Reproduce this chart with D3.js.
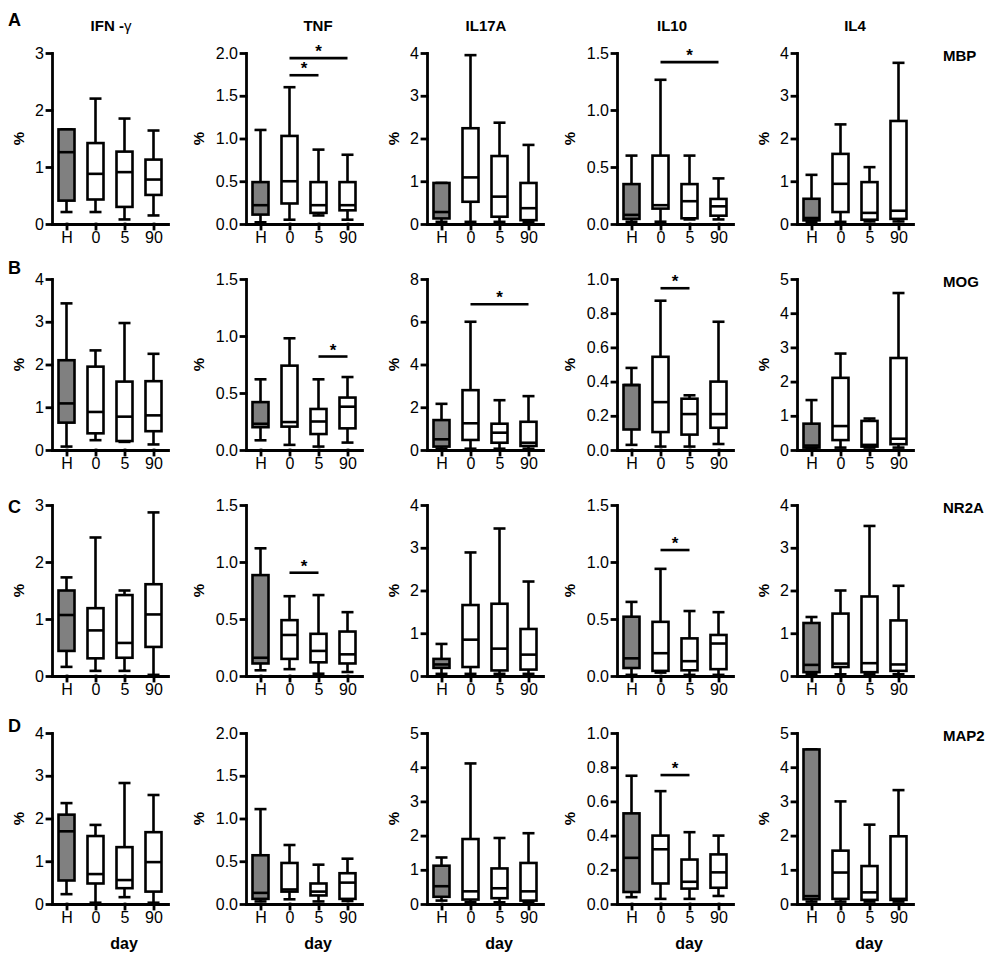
<!DOCTYPE html>
<html>
<head>
<meta charset="utf-8">
<style>
    body { margin: 0; background: #fff; }
    svg { display: block; font-family: "Liberation Sans", Arial, sans-serif; }
    .axis path, .axis line { stroke: #000; stroke-width: 2.8px; stroke-linecap: square; }
    .axis text { font-size: 16px; fill: #000; }
    .box rect, .box line { stroke: #000; stroke-width: 2.6px; }
    .sig line { stroke: #000; stroke-width: 2.6px; }
</style>
</head>
<body>
<div id="chart"></div>
<script src="https://cdn.jsdelivr.net/npm/d3@7"></script>
<script>
    let groups = ["H", "0", "5", "90"];
    let cytokines = ["IFN -", "TNF", "IL17A", "IL10", "IL4"];
    let antigens = ["MBP", "MOG", "NR2A", "MAP2"];
    let rowLetters = ["A", "B", "C", "D"];

    // per cytokine: one [min, q1, median, q3, max] for H, 0, 5, 90
    let boxesMBP = [
        [[0.21, 0.41, 1.26, 1.66, 1.66], [0.21, 0.43, 0.88, 1.42, 2.20], [0.08, 0.30, 0.91, 1.27, 1.85], [0.15, 0.51, 0.78, 1.13, 1.64]],
        [[0.02, 0.11, 0.22, 0.49, 1.10], [0.05, 0.24, 0.50, 1.03, 1.60], [0.10, 0.13, 0.22, 0.49, 0.87], [0.05, 0.16, 0.22, 0.49, 0.81]],
        [[0.05, 0.13, 0.28, 0.96, 0.96], [0.05, 0.52, 1.09, 2.24, 3.95], [0.05, 0.17, 0.64, 1.59, 2.37], [0.04, 0.09, 0.37, 0.96, 1.85]],
        [[0.02, 0.045, 0.08, 0.35, 0.60], [0.02, 0.135, 0.165, 0.60, 1.265], [0.04, 0.05, 0.20, 0.35, 0.60], [0.04, 0.073, 0.155, 0.22, 0.40]],
        [[0.04, 0.085, 0.14, 0.59, 1.15], [0.05, 0.28, 0.94, 1.64, 2.33], [0.06, 0.10, 0.26, 0.98, 1.33], [0.06, 0.12, 0.31, 2.41, 3.77]]
    ];
    let boxesMOG = [
        [[0.08, 0.64, 1.09, 2.10, 3.43], [0.23, 0.39, 0.89, 1.95, 2.33], [0.19, 0.21, 0.78, 1.60, 2.97], [0.13, 0.44, 0.81, 1.61, 2.25]],
        [[0.085, 0.20, 0.23, 0.42, 0.62], [0.045, 0.205, 0.245, 0.74, 0.98], [0.03, 0.14, 0.25, 0.36, 0.62], [0.065, 0.19, 0.38, 0.46, 0.64]],
        [[0.06, 0.16, 0.50, 1.40, 2.16], [0.06, 0.47, 1.25, 2.80, 6.0], [0.06, 0.34, 0.81, 1.23, 2.33], [0.06, 0.19, 0.34, 1.32, 2.52]],
        [[0.03, 0.12, 0.38, 0.38, 0.48], [0.02, 0.105, 0.28, 0.545, 0.873], [0.02, 0.09, 0.21, 0.30, 0.32], [0.035, 0.13, 0.21, 0.40, 0.75]],
        [[0.04, 0.07, 0.13, 0.77, 1.46], [0.07, 0.29, 0.70, 2.11, 2.82], [0.07, 0.10, 0.15, 0.85, 0.92], [0.07, 0.17, 0.33, 2.69, 4.59]]
    ];
    let boxesNR2A = [
        [[0.16, 0.44, 1.07, 1.50, 1.73], [0.09, 0.31, 0.80, 1.19, 2.43], [0.09, 0.32, 0.58, 1.42, 1.50], [0.02, 0.51, 1.08, 1.61, 2.87]],
        [[0.05, 0.11, 0.16, 0.885, 1.12], [0.06, 0.15, 0.36, 0.49, 0.70], [0.02, 0.12, 0.22, 0.37, 0.71], [0.035, 0.11, 0.19, 0.39, 0.56]],
        [[0.05, 0.19, 0.27, 0.40, 0.75], [0.05, 0.21, 0.85, 1.66, 2.89], [0.05, 0.13, 0.64, 1.69, 3.45], [0.05, 0.15, 0.50, 1.10, 2.21]],
        [[0.01, 0.07, 0.155, 0.52, 0.65], [0.03, 0.045, 0.20, 0.475, 0.94], [0.01, 0.05, 0.13, 0.33, 0.57], [0.01, 0.06, 0.285, 0.36, 0.56]],
        [[0.04, 0.09, 0.26, 1.24, 1.38], [0.04, 0.21, 0.29, 1.46, 2.00], [0.04, 0.09, 0.30, 1.86, 3.51], [0.04, 0.12, 0.27, 1.30, 2.11]]
    ];
    let boxesMAP2 = [
        [[0.23, 0.55, 1.70, 2.09, 2.36], [0.03, 0.48, 0.70, 1.59, 1.85], [0.16, 0.37, 0.56, 1.33, 2.83], [0.03, 0.29, 0.98, 1.68, 2.55]],
        [[0.03, 0.06, 0.13, 0.57, 1.11], [0.055, 0.145, 0.17, 0.48, 0.69], [0.03, 0.10, 0.145, 0.24, 0.46], [0.035, 0.06, 0.25, 0.36, 0.53]],
        [[0.10, 0.21, 0.52, 1.12, 1.36], [0.05, 0.13, 0.37, 1.90, 4.11], [0.05, 0.17, 0.46, 1.04, 1.93], [0.05, 0.10, 0.37, 1.20, 2.07]],
        [[0.04, 0.07, 0.27, 0.53, 0.75], [0.03, 0.12, 0.32, 0.40, 0.66], [0.03, 0.09, 0.13, 0.26, 0.42], [0.047, 0.095, 0.185, 0.29, 0.40]],
        [[0.07, 0.14, 0.23, 4.52, 4.52], [0.07, 0.15, 0.92, 1.56, 3.00], [0.07, 0.12, 0.34, 1.11, 2.32], [0.07, 0.12, 0.15, 1.98, 3.33]]
    ];
    let allBoxes = [boxesMBP, boxesMOG, boxesNR2A, boxesMAP2];

    // y axis top and tick step, row by row
    let yMax  = [[3, 2.0, 4, 1.5, 4], [4, 1.5, 8, 1.0, 5], [3, 1.5, 4, 1.5, 4], [4, 2.0, 5, 1.0, 5]];
    let yStep = [[1, 0.5, 1, 0.5, 1], [1, 0.5, 2, 0.2, 1], [1, 0.5, 1, 0.5, 1], [1, 0.5, 1, 0.2, 1]];

    // significance bars: row, column, from group, to group, height
    let sigBars = [
        [0, 1, "0", "5", 1.74], [0, 1, "0", "90", 1.94], [0, 3, "0", "90", 1.42],
        [1, 1, "5", "90", 0.82], [1, 2, "0", "90", 6.82], [1, 3, "0", "5", 0.946],
        [2, 1, "0", "5", 0.906], [2, 3, "0", "5", 1.105],
        [3, 3, "0", "5", 0.754]
    ];

    let w = 1000, h = 967;
    let axisX = [52, 246, 427, 617, 797];
    let rowTop = [53, 279, 505, 733];
    let ph = 171, pw = 116;
    let titleDx = [59, 72, 59, 55, 58];
    let letterY = [26, 274, 513, 732];
    let bw = 16, cw = 12; // box width, whisker cap width

    let vis = d3.select("#chart").append("svg")
        .attr("width", w).attr("height", h);

    let x = d3.scalePoint().domain(groups).range([0, pw]).padding(0.5);

    // column titles
    vis.selectAll("text.title").data(cytokines).enter().append("text")
        .attr("class", "title")
        .attr("x", (d, i) => axisX[i] + titleDx[i])
        .attr("y", 31)
        .attr("text-anchor", "middle")
        .style("font-size", "15px").style("font-weight", "bold")
        .each(function(d, i) {
            d3.select(this).append("tspan").text(d);
            if (i == 0) d3.select(this).append("tspan").style("font-weight", "normal").text("γ");
        });

    rowLetters.forEach(function(l, r) {
        vis.append("text").attr("x", 8).attr("y", letterY[r])
            .style("font-size", "18px").style("font-weight", "bold").text(l);
        vis.append("text").attr("x", 943).attr("y", rowTop[r] + 8)
            .style("font-size", "15px").style("font-weight", "bold").text(antigens[r]);
    });

    allBoxes.forEach(function(rowData, r) {
        rowData.forEach(function(panel, c) {
            let g = vis.append("g").attr("transform", "translate(" + axisX[c] + "," + rowTop[r] + ")");
            let y = d3.scaleLinear().domain([0, yMax[r][c]]).range([ph, 0]);
            let step = yStep[r][c];
            let ticks = d3.range(0, yMax[r][c] + step / 2, step);
            let fmt = step < 1 || yMax[r][c] % 1 ? d3.format(".1f") : d3.format("d");

            let ya = g.append("g").attr("class", "axis")
                .call(d3.axisLeft(y).tickValues(ticks).tickFormat(fmt).tickSize(5).tickSizeOuter(0).tickPadding(3));
            ya.selectAll("text").attr("font-family", null);
            g.append("g").attr("class", "axis")
                .attr("transform", "translate(0," + ph + ")")
                .call(d3.axisBottom(x).tickSize(5).tickSizeOuter(0).tickPadding(3))
                .selectAll("text").attr("font-family", null);
            vis.selectAll(".axis").attr("font-family", null).attr("font-size", null);

            let bb = ya.node().getBBox();
            g.append("text")
                .attr("transform", "translate(" + (bb.x - 11.5) + "," + (ph / 2) + ") rotate(-90)")
                .attr("text-anchor", "middle")
                .style("font-size", "15px").style("font-weight", "bold").text("%");

            let box = g.selectAll("g.box").data(panel).enter().append("g")
                .attr("class", "box")
                .attr("transform", (d, i) => "translate(" + x(groups[i]) + ",0)");
            box.append("line").attr("y1", d => y(d[0])).attr("y2", d => y(d[4]));
            box.append("line").attr("x1", -cw / 2).attr("x2", cw / 2).attr("y1", d => y(d[0])).attr("y2", d => y(d[0]));
            box.append("line").attr("x1", -cw / 2).attr("x2", cw / 2).attr("y1", d => y(d[4])).attr("y2", d => y(d[4]));
            box.append("rect")
                .attr("x", -bw / 2).attr("width", bw)
                .attr("y", d => y(d[3])).attr("height", d => y(d[1]) - y(d[3]))
                .attr("fill", (d, i) => i == 0 ? "#808080" : "#fff");
            box.append("line").attr("x1", -bw / 2).attr("x2", bw / 2).attr("y1", d => y(d[2])).attr("y2", d => y(d[2]));

            let sig = g.selectAll("g.sig").data(sigBars.filter(s => s[0] == r && s[1] == c)).enter()
                .append("g").attr("class", "sig");
            sig.append("line")
                .attr("x1", d => x(d[2])).attr("x2", d => x(d[3]))
                .attr("y1", d => y(d[4])).attr("y2", d => y(d[4]));
            sig.append("text")
                .attr("x", d => (x(d[2]) + x(d[3])) / 2).attr("y", d => y(d[4]) - 1)
                .attr("text-anchor", "middle")
                .style("font-size", "17px").style("font-weight", "bold").text("*");

            if (r == 3) {
                g.append("text").attr("x", 72).attr("y", ph + 45)
                    .attr("text-anchor", "middle")
                    .style("font-size", "16px").style("font-weight", "bold").text("day");
            }
        });
    });
</script>
</body>
</html>
